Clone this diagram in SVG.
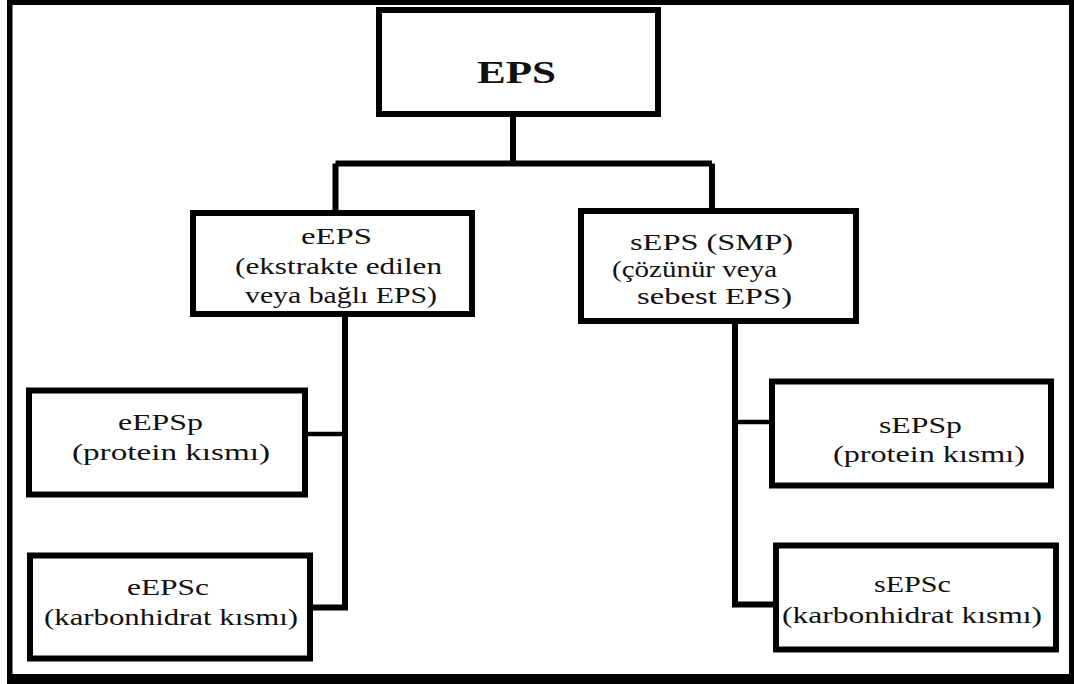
<svg xmlns="http://www.w3.org/2000/svg" width="1074" height="684" viewBox="0 0 1074 684">
<style>
.box{fill:#fff;stroke:#000;stroke-width:6}
.ln{fill:none;stroke:#000;stroke-width:6}
.ln2{fill:none;stroke:#000;stroke-width:4.5}
text{font-family:'Liberation Serif','DejaVu Serif',serif;font-size:24px;fill:#111}
.title{font-size:32px;font-weight:bold}
</style>
<rect width="1074" height="684" fill="#fff"/>
<path d="M7 0H1074V684H7Z M12.5 5V674H1069V5Z" fill="#000" fill-rule="evenodd"/>
<g id="connectors">
<path class="ln" d="M513 117V163.5M335.5 163.5H712M335.5 163.5V210M712 163.5V208"/>
<path class="ln" d="M345 317V607.5H313"/>
<path class="ln2" d="M308 434H345"/>
<path class="ln" d="M735 324V604.5H773"/>
<path class="ln2" d="M735 422H769"/>
</g>
<g id="eps">
<rect class="box" x="379" y="10" width="279" height="104"/>
<text class="title" x="477" y="83" textLength="79" lengthAdjust="spacingAndGlyphs">EPS</text>
</g>
<g id="eeps">
<rect class="box" x="193" y="213" width="279" height="101"/>
<text x="301" y="244" textLength="71" lengthAdjust="spacingAndGlyphs">eEPS</text>
<text x="235" y="274" textLength="207" lengthAdjust="spacingAndGlyphs">(ekstrakte edilen</text>
<text x="245" y="303" textLength="192" lengthAdjust="spacingAndGlyphs">veya bağlı EPS)</text>
</g>
<g id="seps">
<rect class="box" x="581" y="211" width="275" height="110"/>
<text x="630" y="250" textLength="163" lengthAdjust="spacingAndGlyphs">sEPS (SMP)</text>
<text x="612" y="277" textLength="165" lengthAdjust="spacingAndGlyphs">(çözünür veya</text>
<text x="637" y="304" textLength="155" lengthAdjust="spacingAndGlyphs">sebest EPS)</text>
</g>
<g id="eepsp">
<rect class="box" x="29" y="390.5" width="276" height="104"/>
<text x="118" y="430" textLength="85" lengthAdjust="spacingAndGlyphs">eEPSp</text>
<text x="72" y="460" textLength="198" lengthAdjust="spacingAndGlyphs">(protein kısmı)</text>
</g>
<g id="eepsc">
<rect class="box" x="30" y="555.5" width="280" height="103"/>
<text x="127" y="595" textLength="82" lengthAdjust="spacingAndGlyphs">eEPSc</text>
<text x="44" y="625" textLength="254" lengthAdjust="spacingAndGlyphs">(karbonhidrat kısmı)</text>
</g>
<g id="sepsp">
<rect class="box" x="772" y="381.5" width="279" height="104"/>
<text x="879" y="433" textLength="83" lengthAdjust="spacingAndGlyphs">sEPSp</text>
<text x="833" y="462" textLength="192" lengthAdjust="spacingAndGlyphs">(protein kısmı)</text>
</g>
<g id="sepsc">
<rect class="box" x="776" y="545.5" width="280" height="104"/>
<text x="874" y="592" textLength="77" lengthAdjust="spacingAndGlyphs">sEPSc</text>
<text x="782" y="623" textLength="260" lengthAdjust="spacingAndGlyphs">(karbonhidrat kısmı)</text>
</g>
</svg>
